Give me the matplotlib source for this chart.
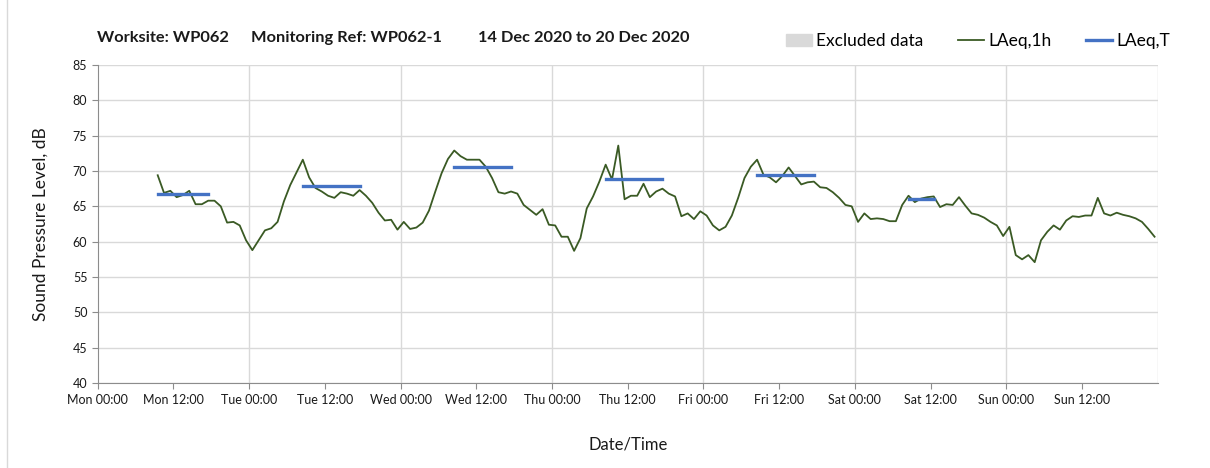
import pandas as pd
import matplotlib.pyplot as plt
import matplotlib.dates as mdates
from matplotlib.patches import Patch
from matplotlib.lines import Line2D

plt.rcParams['font.family'] = ['Lato', 'DejaVu Sans']

# hourly LAeq values, first period plotted at Mon 14 Dec 09:30
first_hour = '2020-12-14 09:30'
laeq_1h = [
    69.4, 66.9, 67.2, 66.3, 66.6, 67.2, 65.3, 65.3, 65.8, 65.8,
    65.0, 62.7, 62.8, 62.3, 60.2, 58.8, 60.2, 61.6, 61.9, 62.8,
    65.7, 68.0, 69.8, 71.6, 69.1, 67.6, 67.1, 66.5, 66.2, 67.0,
    66.8, 66.5, 67.3, 66.5, 65.5, 64.1, 63.0, 63.1, 61.7, 62.8,
    61.8, 62.0, 62.7, 64.4, 67.1, 69.7, 71.7, 72.9, 72.1, 71.6,
    71.6, 71.6, 70.6, 69.0, 67.0, 66.8, 67.1, 66.8, 65.2, 64.5,
    63.8, 64.6, 62.4, 62.3, 60.7, 60.7, 58.7, 60.5, 64.7, 66.4,
    68.5, 70.9, 68.8, 73.6, 66.0, 66.5, 66.5, 68.2, 66.3, 67.1,
    67.5, 66.8, 66.4, 63.6, 64.0, 63.2, 64.3, 63.7, 62.3, 61.6,
    62.1, 63.7, 66.2, 69.0, 70.6, 71.6, 69.5, 69.1, 68.4, 69.3,
    70.5, 69.3, 68.1, 68.4, 68.5, 67.7, 67.6, 67.0, 66.2, 65.2,
    65.0, 62.8, 64.0, 63.2, 63.3, 63.2, 62.9, 62.9, 65.2, 66.5,
    65.6, 66.1, 66.3, 66.4, 64.9, 65.3, 65.2, 66.3, 65.1, 64.0,
    63.8, 63.4, 62.8, 62.3, 60.8, 62.1, 58.1, 57.5, 58.1, 57.1,
    60.2, 61.4, 62.3, 61.7, 63.0, 63.6, 63.5, 63.7, 63.7, 66.2,
    64.0, 63.7, 64.1, 63.8, 63.6, 63.3, 62.8, 61.8, 60.7,
]

# LAeq,T over each working period
period_start = ['2020-12-14 09:30', '2020-12-15 08:30', '2020-12-16 08:30',
                '2020-12-17 08:30', '2020-12-18 08:30', '2020-12-19 08:30']
period_end = ['2020-12-14 17:30', '2020-12-15 17:30', '2020-12-16 17:30',
              '2020-12-17 17:30', '2020-12-18 17:30', '2020-12-19 12:30']
laeq_t = [66.8, 67.9, 70.5, 68.9, 69.4, 66.1]

title_parts = ['Worksite: WP062', 'Monitoring Ref: WP062-1',
               '14 Dec 2020 to 20 Dec 2020']

times = pd.date_range(first_hour, periods=len(laeq_1h), freq='h')
t0 = pd.Timestamp('2020-12-14 00:00')
t1 = pd.Timestamp('2020-12-21 00:00')

green = '#3a5a24'
blue = '#4472c4'
grid = '#d9d9d9'
txt = '#1a1a1a'

fig = plt.figure(figsize=(12.1, 4.68), dpi=100)
ax = fig.add_axes([0.0808, 0.1816, 0.876, 0.6795])

ax.plot(times, laeq_1h, color=green, lw=1.3, zorder=3)
for s, e, v in zip(period_start, period_end, laeq_t):
    ax.plot([pd.Timestamp(s), pd.Timestamp(e)], [v, v], color=blue,
            lw=2.4, solid_capstyle='projecting', zorder=4)

ax.set_xlim(t0, t1)
ax.set_ylim(40, 85)
ax.set_yticks(range(40, 90, 5))
ax.set_xticks(pd.date_range(t0, '2020-12-20 12:00', freq='12h'))
ax.xaxis.set_major_formatter(mdates.DateFormatter('%a %H:%M'))

ax.grid(axis='y', color=grid, lw=1)
for d in pd.date_range('2020-12-15', t1, freq='D'):
    ax.axvline(d, color=grid, lw=1, zorder=0)
ax.set_axisbelow(True)

for side in ['top', 'right']:
    ax.spines[side].set_visible(False)
for side in ['left', 'bottom']:
    ax.spines[side].set_color('#8c8c8c')
ax.tick_params(colors='#8c8c8c', labelcolor=txt, labelsize=9,
               length=4, direction='out')
ax.tick_params(axis='x', pad=4)

ax.set_ylabel('Sound Pressure Level, dB', fontsize=12.5, color=txt, labelpad=17)
ax.set_xlabel('Date/Time', fontsize=12, color=txt, labelpad=22)

for x, s in zip([97, 251, 478], title_parts):
    fig.text(x / 1210, 1 - 38 / 468, s, fontsize=11.8, fontweight='bold',
             color=txt, va='center')

handles = [Patch(color=grid, label='Excluded data'),
           Line2D([], [], color=green, lw=1.3, label='LAeq,1h'),
           Line2D([], [], color=blue, lw=2.4, label='LAeq,T')]
fig.legend(handles=handles, loc='center left', ncol=3, frameon=False,
           bbox_to_anchor=(770 / 1210, 1 - 41 / 468), fontsize=12.5,
           handlelength=1.5, handletextpad=0.25, columnspacing=2.0)

fig.add_artist(Line2D([7 / 1210, 7 / 1210], [0, 1], color=grid, lw=1))

fig.savefig('out.png', dpi=100)
